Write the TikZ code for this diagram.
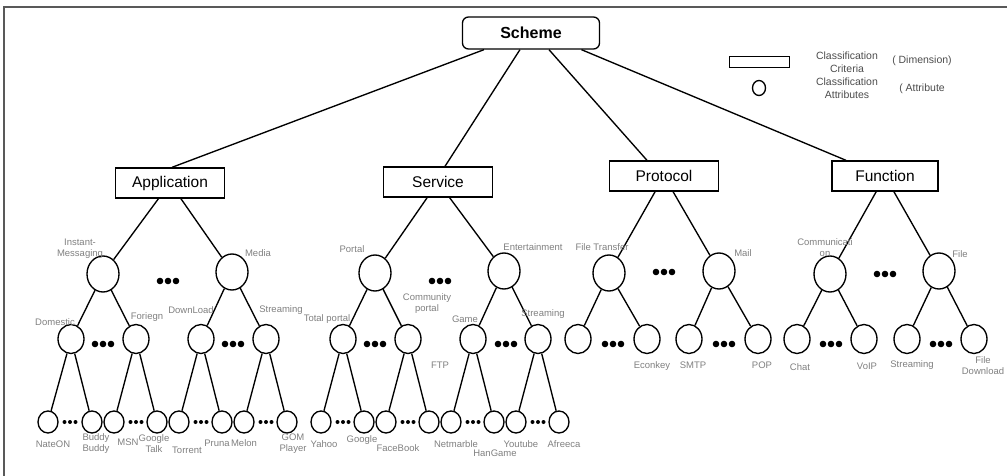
\documentclass[tikz,border=0pt]{standalone}
\usepackage{fontspec}
\setmainfont{Liberation Sans}
\usetikzlibrary{shapes,positioning,calc}

\newcommand{\bigdots}[1]{\foreach \k in {-8,0,8} {\fill (#1) ++(\k,0) circle (3.3);}}
\newcommand{\smalldots}[1]{\foreach \k in {-5.5,0,5.5} {\fill (#1) ++(\k,0) circle (2);}}

\begin{document}
\begin{tikzpicture}
            [
            x=1pt, y=-1pt, line width=1.35pt,
            criteria/.style={rectangle, draw, minimum width=109pt,
                minimum height=30pt, inner sep=0pt, font=\fontsize{15.5}{15.5}\selectfont},
            attr/.style={ellipse, draw, minimum width=32pt, minimum height=36pt, inner sep=0pt},
            subattr/.style={attr, minimum width=26pt, minimum height=29pt},
            leaf/.style={attr, minimum width=20pt, minimum height=22pt},
            lbl/.style={font=\fontsize{9.5}{11}\selectfont, text=black!50, align=center, inner sep=0pt},
            key/.style={lbl, font=\fontsize{10.5}{13}\selectfont, text=black!70}
            ]

            \useasboundingbox (0,0) rectangle (1007,476);
            \draw [line width=1.5pt, black!65] (4,476) -- (4,7) -- (1007,7);

            % Root and criteria
            \node (scheme) [draw, rounded corners=6pt, minimum width=137pt, minimum height=32pt,
                font=\bfseries\fontsize{16}{16}\selectfont] at (531,33) {Scheme};
            \node (app) [criteria] at (170,183) {Application};
            \node (srv) [criteria] at (438,182) {Service};
            \node (prot) [criteria] at (664,176) {Protocol};
            \node (func) [criteria, minimum width=106pt] at (885,176) {Function};

            \draw ($(scheme.south west)!0.16!(scheme.south east)$) -- ($(app.north)+(2,0)$);
            \draw ($(scheme.south west)!0.42!(scheme.south east)$) -- ($(srv.north)+(7,0)$);
            \draw ($(scheme.south west)!0.63!(scheme.south east)$) -- ($(prot.north)+(-17,0)$);
            \draw ($(scheme.south west)!0.865!(scheme.south east)$) -- ($(func.north)+(-39,0)$);

            % Legend
            \node (keybox) [draw, line width=1pt, minimum width=60pt, minimum height=11pt, inner sep=0pt] at (759,62) {};
            \node (keycirc) [ellipse, draw, minimum width=13pt, minimum height=15pt, inner sep=0pt] at (759,88) {};
            \node (keycrit) [key] at (847,62) {Classification\\Criteria};
            \node (keyattr) [key] at (847,88) {Classification\\Attributes};
            \node (keydim) [key] at (922,61) {( Dimension)};
            \node (keyatt) [key] at (922,89) {( Attribute};

            % Attributes, second level
            \node (im) [attr] at (103,274) {};
            \node (media) [attr] at (232,272) {};
            \node (portal) [attr] at (375,273) {};
            \node (ent) [attr] at (504,271) {};
            \node (ftr) [attr] at (609,273) {};
            \node (mail) [attr] at (719,271) {};
            \node (comm) [attr] at (830,274) {};
            \node (file) [attr] at (939,271) {};

            % Attributes, third level
            \node (dom) [subattr] at (71,339) {};
            \node (forg) [subattr] at (136,339) {};
            \node (down) [subattr] at (201,339) {};
            \node (strm) [subattr] at (266,339) {};
            \node (tot) [subattr] at (343,339) {};
            \node (cport) [subattr] at (408,339) {};
            \node (game) [subattr] at (473,339) {};
            \node (estrm) [subattr] at (538,339) {};
            \node (fta) [subattr] at (578,339) {};
            \node (econ) [subattr] at (647,339) {};
            \node (smtp) [subattr] at (689,339) {};
            \node (pop) [subattr] at (758,339) {};
            \node (chat) [subattr] at (797,339) {};
            \node (voip) [subattr] at (864,339) {};
            \node (fstrm) [subattr] at (907,339) {};
            \node (fdown) [subattr] at (974,339) {};

            % Leaves
            \node (nate) [leaf] at (48,422) {};
            \node (buddy) [leaf] at (92,422) {};
            \node (msn) [leaf] at (114,422) {};
            \node (gtalk) [leaf] at (157,422) {};
            \node (torr) [leaf] at (179,422) {};
            \node (pruna) [leaf] at (222,422) {};
            \node (melon) [leaf] at (244,422) {};
            \node (gom) [leaf] at (287,422) {};
            \node (yahoo) [leaf] at (321,422) {};
            \node (google) [leaf] at (364,422) {};
            \node (fbook) [leaf] at (386,422) {};
            \node (cleaf) [leaf] at (429,422) {};
            \node (netm) [leaf] at (451,422) {};
            \node (hang) [leaf] at (494,422) {};
            \node (ytube) [leaf] at (516,422) {};
            \node (afree) [leaf] at (559,422) {};

            \foreach \p/\c in {app/im, app/media, srv/portal, srv/ent, prot/ftr, prot/mail,
                func/comm, func/file, im/dom, im/forg, media/down, media/strm,
                portal/tot, portal/cport, ent/game, ent/estrm, ftr/fta, ftr/econ,
                mail/smtp, mail/pop, comm/chat, comm/voip, file/fstrm, file/fdown,
                dom/nate, dom/buddy, forg/msn, forg/gtalk, down/torr, down/pruna,
                strm/melon, strm/gom, tot/yahoo, tot/google, cport/fbook, cport/cleaf,
                game/netm, game/hang, estrm/ytube, estrm/afree}
                \draw (\p) -- (\c);

            % Omitted siblings
            \bigdots{168,281} \bigdots{440,281} \bigdots{664,272} \bigdots{885,274}
            \foreach \x in {103,233,375,506,613,724,831,941} {\bigdots{\x,344}}
            \foreach \x in {70,136,201,266,343,408,473,538} {\smalldots{\x,422}}

            % Labels
            \node (tim) [lbl] at (80,249) {Instant-\\Messaging};
            \node (tmedia) [lbl] at (258,253) {Media};
            \node (tportal) [lbl] at (352,249) {Portal};
            \node (tent) [lbl] at (533,247) {Entertainment};
            \node (tcport) [lbl] at (427,304) {Community\\portal};
            \node (tftr) [lbl] at (602,247) {File Transfer};
            \node (tmail) [lbl] at (743,253) {Mail};
            \node (tcomm) [lbl] at (825,248) {Communicati\\on};
            \node (tfile) [lbl] at (960,254) {File};

            \node (tdom) [lbl] at (55,322) {Domestic};
            \node (tforg) [lbl] at (147,317) {Foriegn};
            \node (tdown) [lbl] at (191,310) {DownLoad};
            \node (tstrm) [lbl] at (281,310) {Streaming};
            \node (ttot) [lbl] at (327,319) {Total portal};
            \node (tgame) [lbl] at (465,319) {Game};
            \node (testrm) [lbl] at (543,314) {Streaming};
            \node (tftp) [lbl] at (440,365) {FTP};
            \node (tecon) [lbl] at (652,366) {Econkey};
            \node (tsmtp) [lbl] at (693,365) {SMTP};
            \node (tpop) [lbl] at (762,365) {POP};
            \node (tchat) [lbl] at (800,367) {Chat};
            \node (tvoip) [lbl] at (867,366) {VoIP};
            \node (tfstrm) [lbl] at (912,365) {Streaming};
            \node (tfdown) [lbl] at (983,366) {File\\Download};

            \node (tnate) [lbl] at (53,444) {NateON};
            \node (tbuddy) [lbl] at (96,444) {Buddy\\Buddy};
            \node (tmsn) [lbl] at (128,442) {MSN};
            \node (tgtalk) [lbl] at (154,444) {Google\\Talk};
            \node (ttorr) [lbl] at (187,450) {Torrent};
            \node (tpruna) [lbl] at (217,443) {Pruna};
            \node (tmelon) [lbl] at (244,443) {Melon};
            \node (tgom) [lbl] at (293,444) {GOM\\Player};
            \node (tyahoo) [lbl] at (324,444) {Yahoo};
            \node (tgoogle) [lbl] at (362,440) {Google};
            \node (tfbook) [lbl] at (398,448) {FaceBook};
            \node (tnetm) [lbl] at (456,444) {Netmarble};
            \node (thang) [lbl] at (495,453) {HanGame};
            \node (tytube) [lbl] at (521,444) {Youtube};
            \node (tafree) [lbl] at (564,444) {Afreeca};

        \end{tikzpicture}
\end{document}
